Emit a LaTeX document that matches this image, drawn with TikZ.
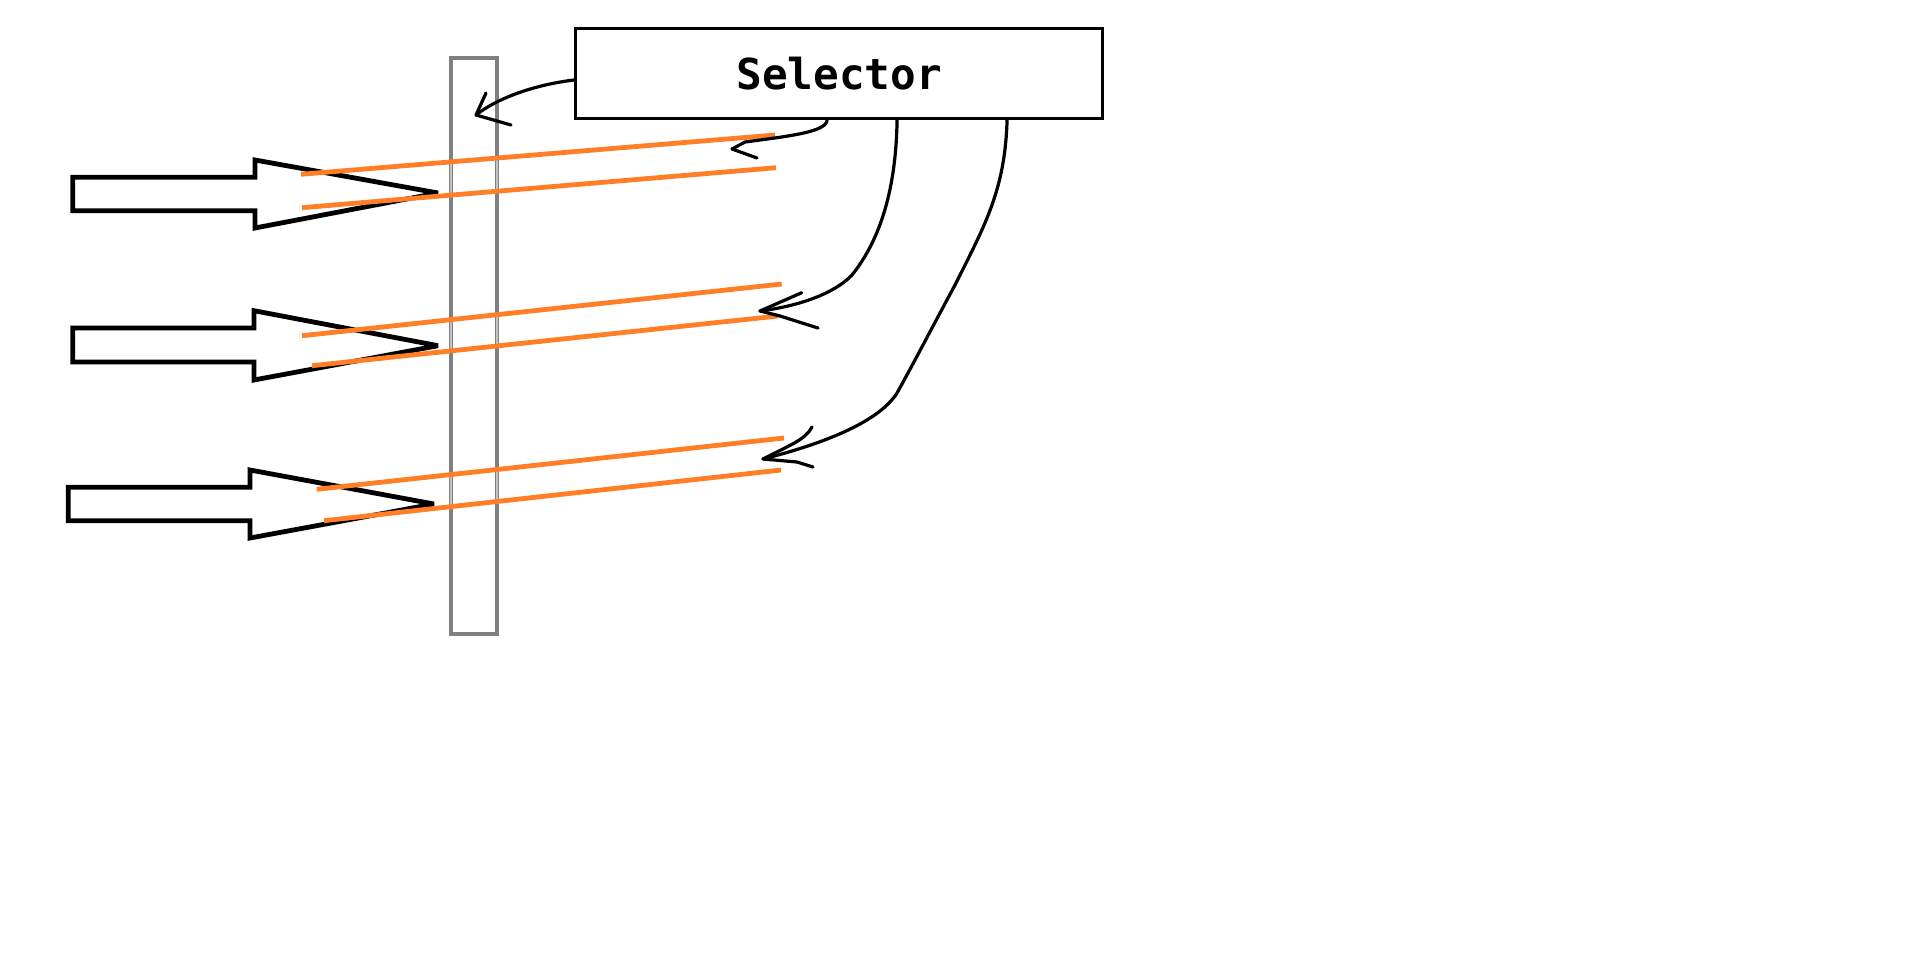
\documentclass[tikz,border=0pt]{standalone}
\usepackage{fontspec}
\newfontfamily\selfont{DejaVu Sans Mono}
\usetikzlibrary{calc}
\definecolor{beamorange}{HTML}{FF7F27}
\definecolor{bargray}{HTML}{808080}
\definecolor{lightgray}{HTML}{C3C3C3}
\tikzset{
  blockarrow/.style={draw=black, line width=3.6pt, line join=miter, miter limit=2},
  beam/.style={draw=beamorange, line width=3.6pt},
  barframe/.style={draw=bargray, line width=3.3pt},
  clearedge/.style={draw=lightgray, line width=1.8pt},
  link/.style={draw=black, line width=2.4pt, line cap=round, line join=round},
  selbox/.style={draw=black, line width=2.2pt, fill=white, minimum width=395.5pt, minimum height=67.8pt, inner sep=0pt, font=\selfont\bfseries\fontsize{32}{38}\selectfont}
}
\begin{document}
\begin{tikzpicture}[x=0.75pt,y=-0.75pt]
\useasboundingbox[fill=white] (0,0) rectangle (1913,968);

% selector box
\node[selbox] (sel) at (839.2,73.5) {Selector};

% vertical bar
\draw[barframe] (451,58) rectangle (497,634);
% lighter edge segments between beam pairs
\draw[clearedge] (451,162) -- (451,195) (497,158) -- (497,191);
\draw[clearedge] (451,320) -- (451,351) (497,315) -- (497,346);
\draw[clearedge] (451,475) -- (451,507) (497,470) -- (497,502);

% block arrows
\draw[blockarrow] (72.7,177.3) -- (255,177.3) -- (255,160) -- (438,193) -- (255,228) -- (255,210.7) -- (72.7,210.7) -- cycle;
\draw[blockarrow] (72.7,328) -- (254,328) -- (254,310.7) -- (438,345.7) -- (254,380) -- (254,362) -- (72.7,362) -- cycle;
\draw[blockarrow] (68.3,487.3) -- (250,487.3) -- (250,470) -- (434,504) -- (250,538) -- (250,520.7) -- (68.3,520.7) -- cycle;

% orange beams
\draw[beam] (301,174.3) -- (775,135);
\draw[beam] (302,207.7) -- (776,167.7);
\draw[beam] (302,335.7) -- (781.7,284);
\draw[beam] (312,365.7) -- (778,316);
\draw[beam] (316.7,489.3) -- (784,438);
\draw[beam] (324,520.7) -- (781,470);

% connector end points
\coordinate (t1) at (476,115);
\coordinate (t2) at (732,149);
\coordinate (t3) at (760,311);
\coordinate (t4) at (763,459);

% connector 1
\draw[link] ($(sel.west)+(0,6.5)$) .. controls (540,84) and (500,96) .. (t1);
\draw[link] (t1) -- (486,93);
\draw[link] (t1) -- (511,125);

% connector 2
\draw[link] ($(sel.south west)+(253,0)$) .. controls (826,132) and (790,136) .. (745,142) -- (t2);
\draw[link] (t2) -- (757,158);

% connector 3
\draw[link] ($(sel.south west)+(323,0)$) .. controls (896,190) and (880,240) .. (852,275)
  .. controls (835,293) and (800,306) .. (t3);
\draw[link] (t3) -- (801.7,292.7);
\draw[link] (t3) -- (780,316) -- (818,328);

% connector 4
\draw[link] ($(sel.south west)+(433,0)$) .. controls (1005,190) and (985,225) .. (955,285)
  .. controls (935,322) and (910,370) .. (897,393)
  .. controls (880,420) and (830,442) .. (t4);
\draw[link] (t4) .. controls (790,445) and (805,440) .. (812,427);
\draw[link] (t4) -- (797,462) -- (813,467);
\end{tikzpicture}
\end{document}
